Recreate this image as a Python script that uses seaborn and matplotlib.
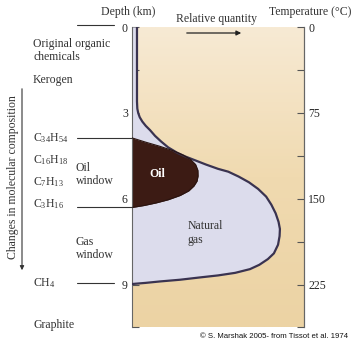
import numpy as np
import pandas as pd
import matplotlib
matplotlib.use("Agg")
import matplotlib.pyplot as plt
import seaborn as sns
from matplotlib.lines import Line2D
from matplotlib.colors import LinearSegmentedColormap

# ---- data ----
# outer envelope: total relative quantity (oil + gas) vs depth (km)
total_rel = [0.029, 0.029, 0.031, 0.036, 0.045, 0.060, 0.080, 0.105, 0.134, 0.17,
             0.21, 0.26, 0.31, 0.366, 0.43, 0.50, 0.56, 0.62, 0.68, 0.733,
             0.78, 0.81, 0.835, 0.852, 0.86, 0.858, 0.849, 0.825, 0.79, 0.74,
             0.686, 0.60, 0.50, 0.395, 0.28, 0.163, 0.08, 0.0]
total_depth = [0.0, 2.6, 2.85, 3.0, 3.15, 3.3, 3.45, 3.6, 3.8, 4.0,
               4.2, 4.38, 4.52, 4.65, 4.8, 4.95, 5.05, 5.22, 5.42, 5.65,
               5.92, 6.2, 6.5, 6.8, 7.05, 7.3, 7.6, 7.9, 8.1, 8.3,
               8.45, 8.58, 8.67, 8.74, 8.82, 8.88, 8.93, 8.97]
# oil region outline
oil_rel = [0.0, 0.08, 0.16, 0.24, 0.30, 0.34, 0.37, 0.383, 0.384, 0.378,
           0.36, 0.33, 0.28, 0.21, 0.14, 0.07, 0.0]
oil_depth = [3.87, 4.02, 4.16, 4.32, 4.48, 4.62, 4.8, 5.0, 5.2, 5.38,
             5.55, 5.72, 5.88, 6.03, 6.14, 6.23, 6.3]

depth_ticks = [0, 3, 6, 9]
temp_ticks = [0, 75, 150, 225]
depth_max = 10.47

composition_labels = ["C$_{34}$H$_{54}$", "C$_{16}$H$_{18}$", "C$_{7}$H$_{13}$",
                      "C$_{3}$H$_{16}$", "CH$_{4}$"]

sns.set_style("white")
plt.rcParams["font.family"] = ["Liberation Serif", "DejaVu Serif"]
plt.rcParams["mathtext.fontset"] = "custom"
plt.rcParams["mathtext.rm"] = "Liberation Serif"
plt.rcParams["mathtext.it"] = "Liberation Serif"
plt.rcParams["mathtext.bf"] = "Liberation Serif:bold"

W, H = 356, 346
fig = plt.figure(figsize=(W / 100, H / 100), dpi=100)
fig.patch.set_facecolor("white")

def fx(x):
    return x / W

def fy(y):
    return 1 - y / H

ax = fig.add_axes([fx(132), fy(327), 172 / W, 300 / H])
ax.set_xlim(0, 1)
ax.set_ylim(depth_max, 0)

# beige background gradient
cmap = LinearSegmentedColormap.from_list("bg", ["#F7EAD4", "#F0DAB0", "#ECD3A4"])
grad = np.linspace(0, 1, 200).reshape(-1, 1)
ax.imshow(grad, extent=[0, 1, depth_max, 0], aspect="auto", cmap=cmap, zorder=0)

outline = "#3A3350"
gas_col = "#DCDCEC"
oil_col = "#3C1B14"

ax.fill_betweenx(total_depth, 0, total_rel, color=gas_col, zorder=1, lw=0)
ax.fill_betweenx(oil_depth, 0, oil_rel, color=oil_col, zorder=2, lw=0)

df_total = pd.DataFrame({"rel": total_rel, "depth": total_depth})
df_oil = pd.DataFrame({"rel": oil_rel, "depth": oil_depth})
sns.lineplot(data=df_total, x="rel", y="depth", sort=False, estimator=None,
             color=outline, lw=1.6, ax=ax, zorder=3)
sns.lineplot(data=df_oil, x="rel", y="depth", sort=False, estimator=None,
             color="#2A1410", lw=0.8, ax=ax, zorder=3)
ax.set_ylim(depth_max, 0)
ax.set_xlim(0, 1)

ax.set_xlabel("")
ax.set_ylabel("")
ax.set_xticks([])
for s in ["top", "bottom"]:
    ax.spines[s].set_visible(False)
for s in ["left", "right"]:
    ax.spines[s].set_color("#666666")
    ax.spines[s].set_linewidth(0.8)
ax.set_yticks(depth_ticks)
ax.set_yticklabels([str(t) for t in depth_ticks])
ax.set_yticks([1.5, 4.5, 7.5, depth_max], minor=True)
ax.tick_params(axis="y", which="both", direction="in", length=5, width=0.8,
               color="#555555", pad=3, labelsize=8.5, left=True)

ax2 = ax.twinx()
ax2.set_ylim(depth_max * 25, 0)
ax2.set_yticks(temp_ticks)
ax2.set_yticklabels([str(t) for t in temp_ticks])
ax2.set_yticks([37.5, 112.5, 187.5, depth_max * 25], minor=True)
ax2.tick_params(axis="y", which="both", direction="in", length=5, width=0.8,
                color="#555555", pad=3, labelsize=8.5, right=True)
for s in ["top", "bottom", "left"]:
    ax2.spines[s].set_visible(False)
ax2.spines["right"].set_color("#666666")
ax2.spines["right"].set_linewidth(0.8)

tc = "#333333"
fs = 8.5

def label(x, y, s, ha="left", **kw):
    fig.text(fx(x), fy(y), s, ha=ha, va="center", fontsize=kw.pop("fontsize", fs),
             color=kw.pop("color", tc), **kw)

# headers
label(128, 12, "Depth (km)", ha="center")
label(216, 19, "Relative quantity", ha="center")
label(310, 12, "Temperature (°C)", ha="center")
fig.add_artist(matplotlib.patches.FancyArrowPatch(
    (fx(184), fy(33)), (fx(244), fy(33)), transform=fig.transFigure,
    arrowstyle="-|>", mutation_scale=7, color="#222222", lw=0.9))

# left labels
label(33, 44, "Original organic")
label(33, 57, "chemicals")
label(33, 80, "Kerogen")
comp_y = [138, 160, 182, 204, 283]
for lab, yy in zip(composition_labels, comp_y):
    label(33, yy, lab)
label(33, 325, "Graphite")

label(76, 168, "Oil")
label(76, 181, "window")
label(76, 242, "Gas")
label(76, 255, "window")

label(157, 174, "Oil", ha="center", color="white", fontweight="bold")
label(188, 226, "Natural")
label(188, 240, "gas")

# horizontal leader lines
for (x0, x1, yy) in [(77, 114, 25), (77, 132, 138), (77, 132, 207), (77, 114, 283)]:
    fig.add_artist(Line2D([fx(x0), fx(x1)], [fy(yy), fy(yy)], color="#333333", lw=0.8))

# vertical composition arrow
fig.add_artist(matplotlib.patches.FancyArrowPatch(
    (fx(22), fy(86)), (fx(22), fy(273)), transform=fig.transFigure,
    arrowstyle="-|>", mutation_scale=6, color="#333333", lw=0.8))
fig.text(fx(13), fy(177), "Changes in molecular composition", rotation=90,
         ha="center", va="center", fontsize=fs, color=tc)

fig.text(fx(348), fy(337), "© S. Marshak 2005- from Tissot et al. 1974", ha="right",
         va="center", fontsize=5.6, color="#111111", family=["Liberation Sans", "DejaVu Sans"])

fig.savefig("out.png", dpi=100, facecolor="white")
